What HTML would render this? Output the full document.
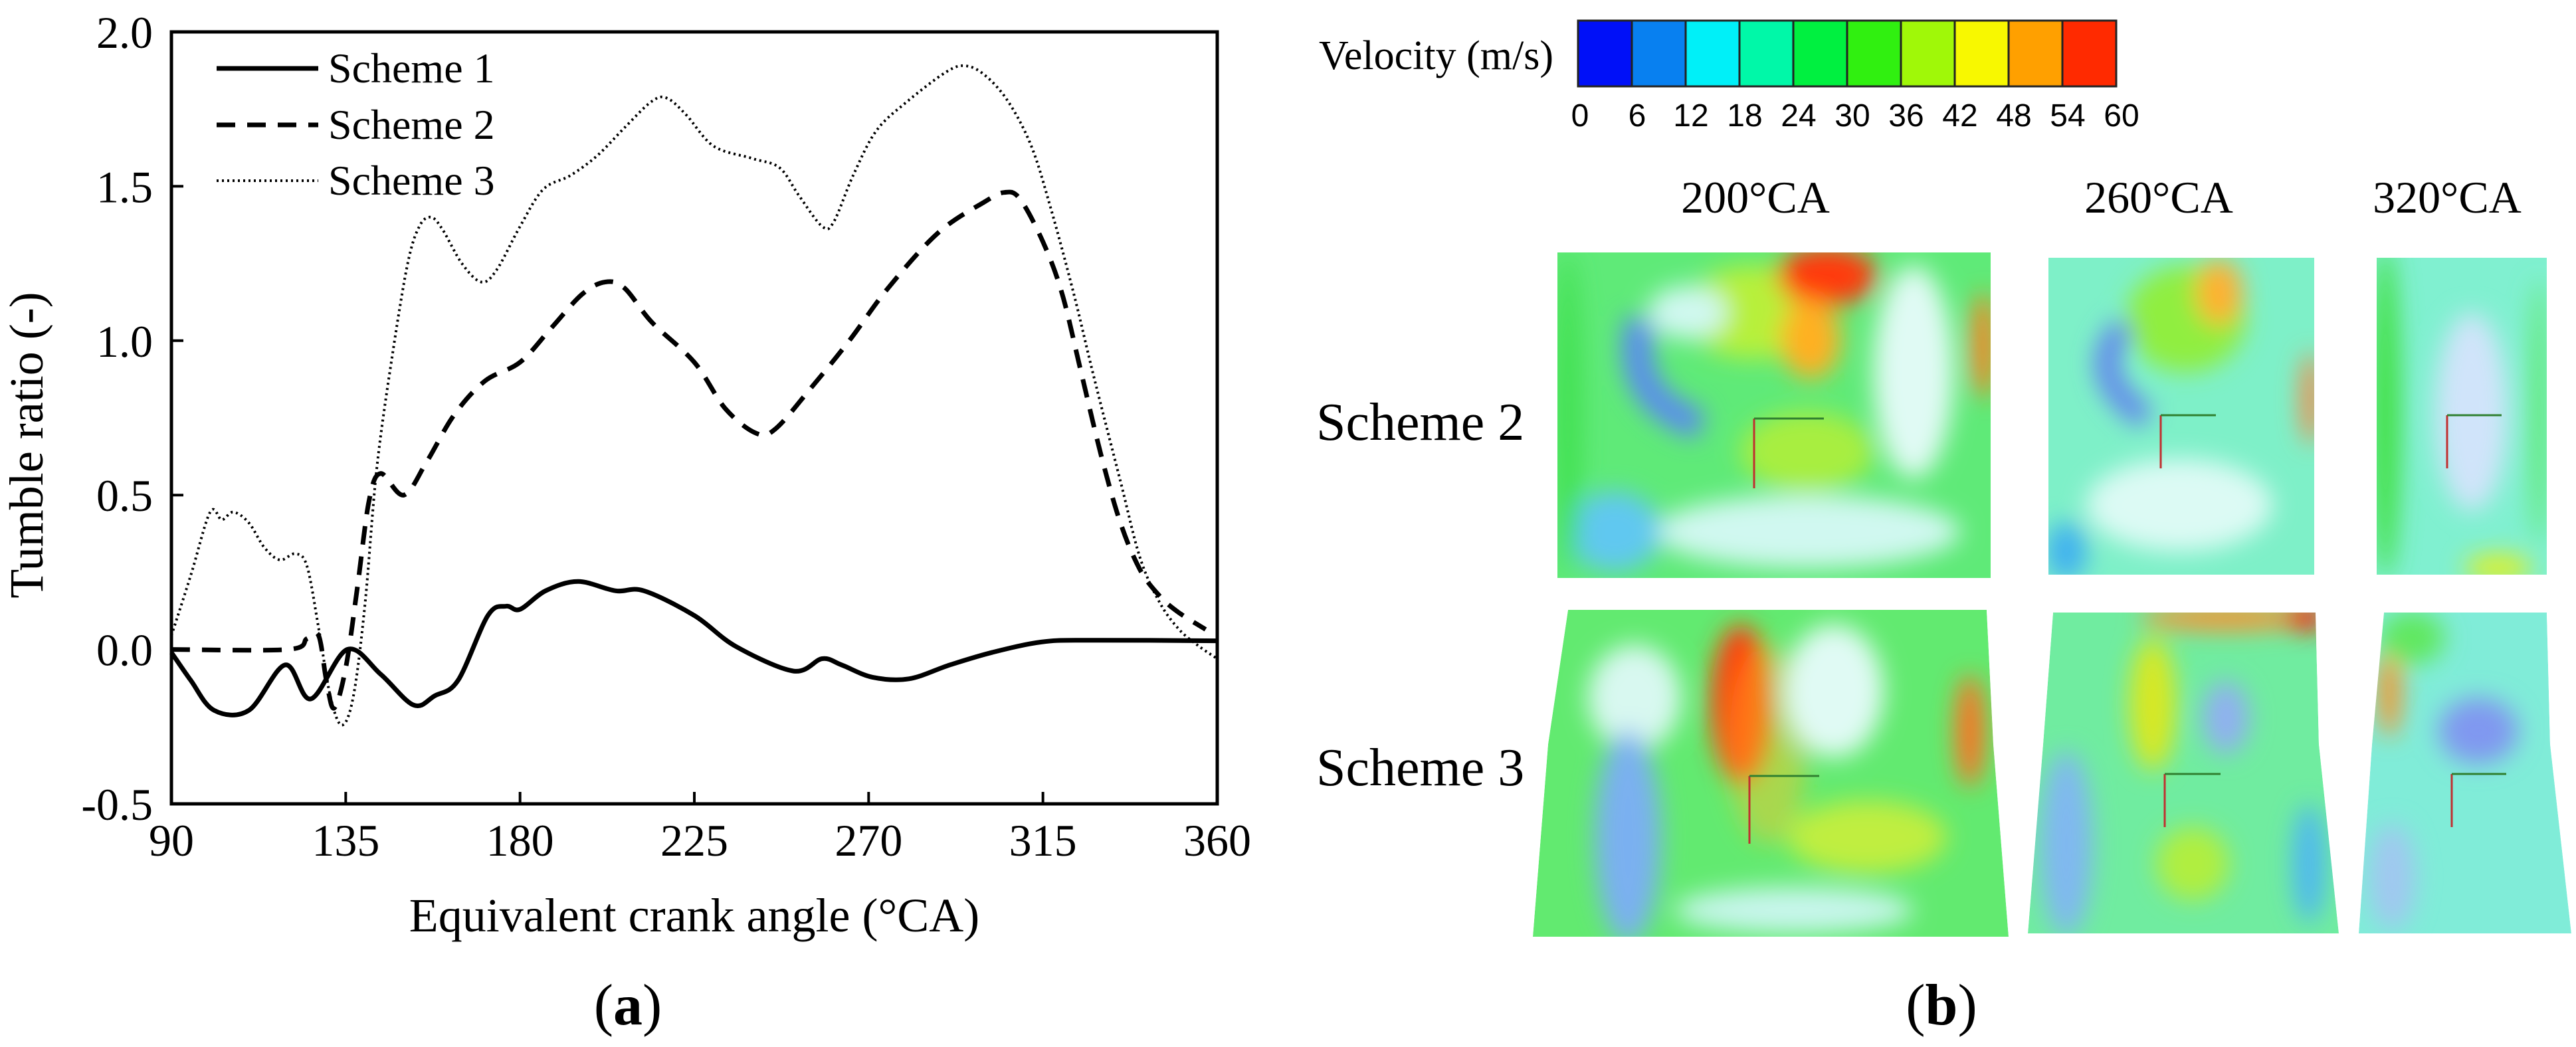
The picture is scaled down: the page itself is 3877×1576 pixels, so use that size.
<!DOCTYPE html>
<html><head><meta charset="utf-8">
<style>
html,body{margin:0;padding:0;background:#fff;}
svg{display:block;}
text{font-family:"Liberation Serif",serif;fill:#000;}
.sans{font-family:"Liberation Sans",sans-serif;}
</style></head>
<body>
<svg id="fig" width="3877" height="1576" viewBox="0 0 3877 1576" xmlns="http://www.w3.org/2000/svg">
<defs>
  <filter id="blur" x="-20%" y="-20%" width="140%" height="140%"><feGaussianBlur stdDeviation="18"/></filter>
  <clipPath id="c1"><rect x="2344" y="380" width="652" height="490"/></clipPath>
  <clipPath id="c2"><rect x="3083" y="388" width="400" height="477"/></clipPath>
  <clipPath id="c3"><rect x="3577" y="388" width="256" height="477"/></clipPath>
  <clipPath id="c4"><path d="M2360,918 L2990,918 L3000,1120 L3023,1410 L2307,1410 L2330,1120 Z"/></clipPath>
  <clipPath id="c5"><path d="M3090,922 L3485,922 L3490,1120 L3520,1405 L3052,1405 L3075,1120 Z"/></clipPath>
  <clipPath id="c6"><path d="M3588,922 L3833,922 L3838,1120 L3870,1405 L3550,1405 L3570,1120 Z"/></clipPath>
</defs>

<g id="panel-a">
  <g id="axes"></g>
  <g id="series"></g>
  <rect x="258" y="48" width="1574" height="1162" fill="none" stroke="#000" stroke-width="5"/>
  <g>
    <g>
      <line x1="326" y1="103" x2="479" y2="103" stroke="#000" stroke-width="7"/>
      <text x="494" y="124" font-size="64">Scheme 1</text>
    </g>
    <g>
      <line x1="326" y1="188" x2="479" y2="188" stroke="#000" stroke-width="7" stroke-dasharray="28 18"/>
      <text x="494" y="209" font-size="64">Scheme 2</text>
    </g>
    <g>
      <line x1="326" y1="272" x2="479" y2="272" stroke="#000" stroke-width="4" stroke-dasharray="3 5"/>
      <text x="494" y="293" font-size="64">Scheme 3</text>
    </g>
  </g>
  <text x="1045" y="1402" font-size="72" text-anchor="middle">Equivalent crank angle (°CA)</text>
  <text transform="translate(64,670) rotate(-90)" font-size="72" text-anchor="middle">Tumble ratio (-)</text>
  <text x="945" y="1542" font-size="88" text-anchor="middle">(<tspan font-weight="bold">a</tspan>)</text>
</g>

<g id="panel-b">
  <text x="1985" y="104" font-size="62">Velocity (m/s)</text>
  <g id="colorbar"></g>
  <text x="2642" y="320" font-size="68" text-anchor="middle">200°CA</text>
  <text x="3249" y="320" font-size="68" text-anchor="middle">260°CA</text>
  <text x="3683" y="320" font-size="68" text-anchor="middle">320°CA</text>
  <text x="1981" y="662" font-size="80">Scheme 2</text>
  <text x="1981" y="1182" font-size="80">Scheme 3</text>

  <g clip-path="url(#c1)">
    <rect x="2344" y="380" width="652" height="490" fill="#5fea78"/>
    <g filter="url(#blur)">
      <ellipse cx="2640" cy="470" rx="110" ry="70" fill="#b7f03a"/>
      <ellipse cx="2750" cy="415" rx="75" ry="45" fill="#ff3a10"/>
      <ellipse cx="2725" cy="510" rx="45" ry="60" fill="#ffb020"/>
      <path d="M2470,480 Q2440,600 2560,640" stroke="#5a8af0" stroke-width="45" fill="none"/>
      <ellipse cx="2540" cy="470" rx="60" ry="40" fill="#d0f8f0"/>
      <ellipse cx="2880" cy="560" rx="60" ry="160" fill="#e0faf4"/>
      <ellipse cx="2985" cy="520" rx="18" ry="80" fill="#ff8020"/>
      <ellipse cx="2720" cy="800" rx="230" ry="55" fill="#d0f8f0"/>
      <ellipse cx="2430" cy="800" rx="70" ry="60" fill="#60c8f0"/>
      <ellipse cx="2720" cy="680" rx="100" ry="60" fill="#a8ee40"/>
      <ellipse cx="2360" cy="620" rx="20" ry="240" fill="#40e050"/>
    </g>
  </g>
  <g clip-path="url(#c2)">
    <rect x="3083" y="388" width="400" height="477" fill="#7ef0c8"/>
    <g filter="url(#blur)">
      <ellipse cx="3290" cy="480" rx="90" ry="80" fill="#90ee40"/>
      <ellipse cx="3340" cy="440" rx="35" ry="50" fill="#ffb030"/>
      <path d="M3200,490 Q3130,560 3230,630" stroke="#6080f0" stroke-width="35" fill="none"/>
      <ellipse cx="3280" cy="760" rx="140" ry="70" fill="#dcfaf4"/>
      <ellipse cx="3110" cy="830" rx="30" ry="45" fill="#40b0f0"/>
      <ellipse cx="3478" cy="600" rx="14" ry="70" fill="#ff8040"/>
    </g>
  </g>
  <g clip-path="url(#c3)">
    <rect x="3577" y="388" width="256" height="477" fill="#80f0d0"/>
    <g filter="url(#blur)">
      <ellipse cx="3590" cy="620" rx="22" ry="250" fill="#40e040"/>
      <ellipse cx="3720" cy="620" rx="55" ry="150" fill="#d0e4fa"/>
      <ellipse cx="3760" cy="855" rx="50" ry="20" fill="#e0f020"/>
      <ellipse cx="3822" cy="620" rx="14" ry="200" fill="#60e870"/>
    </g>
  </g>
  <g clip-path="url(#c4)">
    <path d="M2360,918 L2990,918 L3000,1120 L3023,1410 L2307,1410 L2330,1120 Z" fill="#62ea70"/>
    <g filter="url(#blur)">
      <ellipse cx="2620" cy="1060" rx="45" ry="120" fill="#ff3a10"/>
      <ellipse cx="2660" cy="1120" rx="60" ry="150" fill="#ffc020" opacity="0.45"/>
      <ellipse cx="2460" cy="1050" rx="70" ry="80" fill="#d8f8f0"/>
      <ellipse cx="2450" cy="1260" rx="50" ry="160" fill="#7ab0f0"/>
      <ellipse cx="2760" cy="1040" rx="75" ry="100" fill="#e0faf4"/>
      <ellipse cx="2965" cy="1100" rx="22" ry="85" fill="#ff7020"/>
      <ellipse cx="2810" cy="1260" rx="120" ry="55" fill="#c0ee40"/>
      <ellipse cx="2700" cy="1370" rx="180" ry="35" fill="#c8f6ec"/>
    </g>
  </g>
  <g clip-path="url(#c5)">
    <path d="M3090,922 L3485,922 L3490,1120 L3520,1405 L3052,1405 L3075,1120 Z" fill="#70eca0"/>
    <g filter="url(#blur)">
      <ellipse cx="3350" cy="930" rx="130" ry="18" fill="#ff9030"/>
      <ellipse cx="3470" cy="930" rx="30" ry="20" fill="#ff2010"/>
      <ellipse cx="3240" cy="1060" rx="35" ry="100" fill="#d8e820"/>
      <ellipse cx="3350" cy="1080" rx="35" ry="55" fill="#90b0f0"/>
      <ellipse cx="3110" cy="1270" rx="40" ry="140" fill="#80b8f0"/>
      <ellipse cx="3300" cy="1300" rx="55" ry="55" fill="#b0ee40"/>
      <ellipse cx="3475" cy="1300" rx="25" ry="90" fill="#50b8f0"/>
    </g>
  </g>
  <g clip-path="url(#c6)">
    <path d="M3588,922 L3833,922 L3838,1120 L3870,1405 L3550,1405 L3570,1120 Z" fill="#80ecd8"/>
    <g filter="url(#blur)">
      <ellipse cx="3596" cy="1040" rx="16" ry="70" fill="#ff9020"/>
      <ellipse cx="3730" cy="1100" rx="60" ry="50" fill="#8098f0"/>
      <ellipse cx="3630" cy="960" rx="50" ry="40" fill="#60e860"/>
      <ellipse cx="3600" cy="1320" rx="35" ry="80" fill="#a0c8f0"/>
    </g>
  </g>
  <g stroke-width="3">
    <line x1="2640" y1="630" x2="2640" y2="735" stroke="#c03030"/><line x1="2640" y1="630" x2="2745" y2="630" stroke="#308030"/>
    <line x1="3252" y1="625" x2="3252" y2="705" stroke="#c03030"/><line x1="3252" y1="625" x2="3335" y2="625" stroke="#308030"/>
    <line x1="3683" y1="625" x2="3683" y2="705" stroke="#c03030"/><line x1="3683" y1="625" x2="3765" y2="625" stroke="#308030"/>
    <line x1="2633" y1="1168" x2="2633" y2="1270" stroke="#c03030"/><line x1="2633" y1="1168" x2="2738" y2="1168" stroke="#308030"/>
    <line x1="3258" y1="1165" x2="3258" y2="1245" stroke="#c03030"/><line x1="3258" y1="1165" x2="3342" y2="1165" stroke="#308030"/>
    <line x1="3690" y1="1165" x2="3690" y2="1245" stroke="#c03030"/><line x1="3690" y1="1165" x2="3772" y2="1165" stroke="#308030"/>
  </g>
  <text x="2922" y="1542" font-size="88" text-anchor="middle">(<tspan font-weight="bold">b</tspan>)</text>
</g>
</svg>
<script>
// ---- chart data ----
const xTicks = [90, 135, 180, 225, 270, 315, 360];
const yTicks = [-0.5, 0.0, 0.5, 1.0, 1.5, 2.0];
const yTickLabels = ["-0.5", "0.0", "0.5", "1.0", "1.5", "2.0"];
const s1Angle = [90,95,101,110,119.4,126,135.4,144,152.5,158,164,171.7,176.4,180,186.6,195,204.7,212,225,235.7,250.6,258,263,271,280.4,291,301.8,314.6,327,360];
const s1Value = [-0.01,-0.1,-0.197,-0.197,-0.05,-0.16,0.0,-0.08,-0.18,-0.15,-0.1,0.11,0.14,0.13,0.19,0.22,0.19,0.19,0.11,0.01,-0.07,-0.03,-0.05,-0.09,-0.095,-0.05,-0.01,0.024,0.03,0.028];
const s2Angle = [90,120,125,128,130,132,135,138,141,144,150,156,163,171,180,188,196,202,207,214,225,233,241,246,255,265,275,288,300,305,309,315,320,325,330,335,340,345,350,357];
const s2Value = [0,0,0.035,0.045,-0.1,-0.19,-0.06,0.2,0.48,0.57,0.5,0.61,0.76,0.87,0.93,1.04,1.15,1.19,1.17,1.06,0.93,0.78,0.70,0.715,0.845,1.0,1.17,1.35,1.45,1.48,1.46,1.32,1.15,0.89,0.63,0.41,0.26,0.175,0.12,0.065];
const s3Angle = [90,95,100,103,106,110,114,118,122,125,128,131,134,137,140,143,147,151,154,157,160,165,170,174,180,186,193,200,207,214,218,223,230,240,247,252,258,261,266,272,280,290,295,300,306,312,317,323,328,335,340,345,350,355,360];
const s3Value = [0.045,0.24,0.445,0.42,0.445,0.41,0.33,0.29,0.31,0.27,0.07,-0.15,-0.245,-0.15,0.15,0.585,0.95,1.25,1.37,1.40,1.36,1.25,1.19,1.23,1.37,1.49,1.535,1.60,1.69,1.775,1.785,1.73,1.63,1.59,1.56,1.47,1.37,1.385,1.535,1.68,1.775,1.87,1.89,1.86,1.775,1.63,1.43,1.15,0.89,0.545,0.30,0.155,0.067,0.013,-0.03];
const cbTicks = [0,6,12,18,24,30,36,42,48,54,60];
const cbColors = ["#0010f8","#0880f0","#00f0f8","#00f8a8","#00f040","#30f010","#a0f808","#f8f800","#ffa000","#ff2a00"];

const NS = "http://www.w3.org/2000/svg";
const X0 = 258, X1 = 1832, Y0 = 1210, Y1 = 48;
function xs(a){ return X0 + (a - 90) / 270 * (X1 - X0); }
function ys(v){ return Y0 - (v + 0.5) / 2.5 * (Y0 - Y1); }
function mk(tag, attrs, parent){ const e = document.createElementNS(NS, tag); for (const k in attrs) e.setAttribute(k, attrs[k]); parent.appendChild(e); return e; }

const axes = document.getElementById("axes");
xTicks.forEach(t => {
  const tk = mk("line", {x1: xs(t), x2: xs(t), y1: Y0, y2: Y0 - 18, stroke: "#000", "stroke-width": 4}, axes);
  
  
  const lb = mk("text", {x: xs(t), y: 1288, "font-size": 68, "text-anchor": "middle"}, axes);
  lb.textContent = t;
  
  
});
yTicks.forEach((t, i) => {
  const tk = mk("line", {x1: X0, x2: X0 + 18, y1: ys(t), y2: ys(t), stroke: "#000", "stroke-width": 4}, axes);
  
  
  const lb = mk("text", {x: 230, y: ys(t) + 24, "font-size": 68, "text-anchor": "end"}, axes);
  lb.textContent = yTickLabels[i];
  
  
});

function smoothPath(ax, vs){
  const p = ax.map((a, i) => [xs(a), ys(vs[i])]);
  let d = "M" + p[0][0].toFixed(1) + "," + p[0][1].toFixed(1);
  for (let i = 0; i < p.length - 1; i++){
    const p0 = p[Math.max(0, i - 1)], p1 = p[i], p2 = p[i + 1], p3 = p[Math.min(p.length - 1, i + 2)];
    const c1 = [p1[0] + (p2[0] - p0[0]) / 6, p1[1] + (p2[1] - p0[1]) / 6];
    const c2 = [p2[0] - (p3[0] - p1[0]) / 6, p2[1] - (p3[1] - p1[1]) / 6];
    d += " C" + c1[0].toFixed(1) + "," + c1[1].toFixed(1) + " " + c2[0].toFixed(1) + "," + c2[1].toFixed(1) + " " + p2[0].toFixed(1) + "," + p2[1].toFixed(1);
  }
  return d;
}
const sg = document.getElementById("series");
const l1 = mk("path", {d: smoothPath(s1Angle, s1Value), fill: "none", stroke: "#000", "stroke-width": 7}, sg);


const l2 = mk("path", {d: smoothPath(s2Angle, s2Value), fill: "none", stroke: "#000", "stroke-width": 7, "stroke-dasharray": "28 18"}, sg);


const l3 = mk("path", {d: smoothPath(s3Angle, s3Value), fill: "none", stroke: "#000", "stroke-width": 4, "stroke-dasharray": "3 5"}, sg);



// colorbar
const cb = document.getElementById("colorbar");
const CB0 = 2375, CB1 = 3185, CBT = 31, CBB = 130;
function cx(v){ return CB0 + v / 60 * (CB1 - CB0); }
cbColors.forEach((c, i) => {
  const r = mk("rect", {x: cx(cbTicks[i]), y: CBT, width: cx(cbTicks[i + 1]) - cx(cbTicks[i]), height: CBB - CBT, fill: c, stroke: "#222", "stroke-width": 3}, cb);
  
  
});
cbTicks.forEach(t => {
  const lb = mk("text", {x: cx(t) + (t === 0 ? 3 : 8), y: 190, "font-size": 48, "text-anchor": "middle", class: "sans", fill: "#333"}, cb);
  lb.textContent = t;
  
  
});
</script>
</body></html>
